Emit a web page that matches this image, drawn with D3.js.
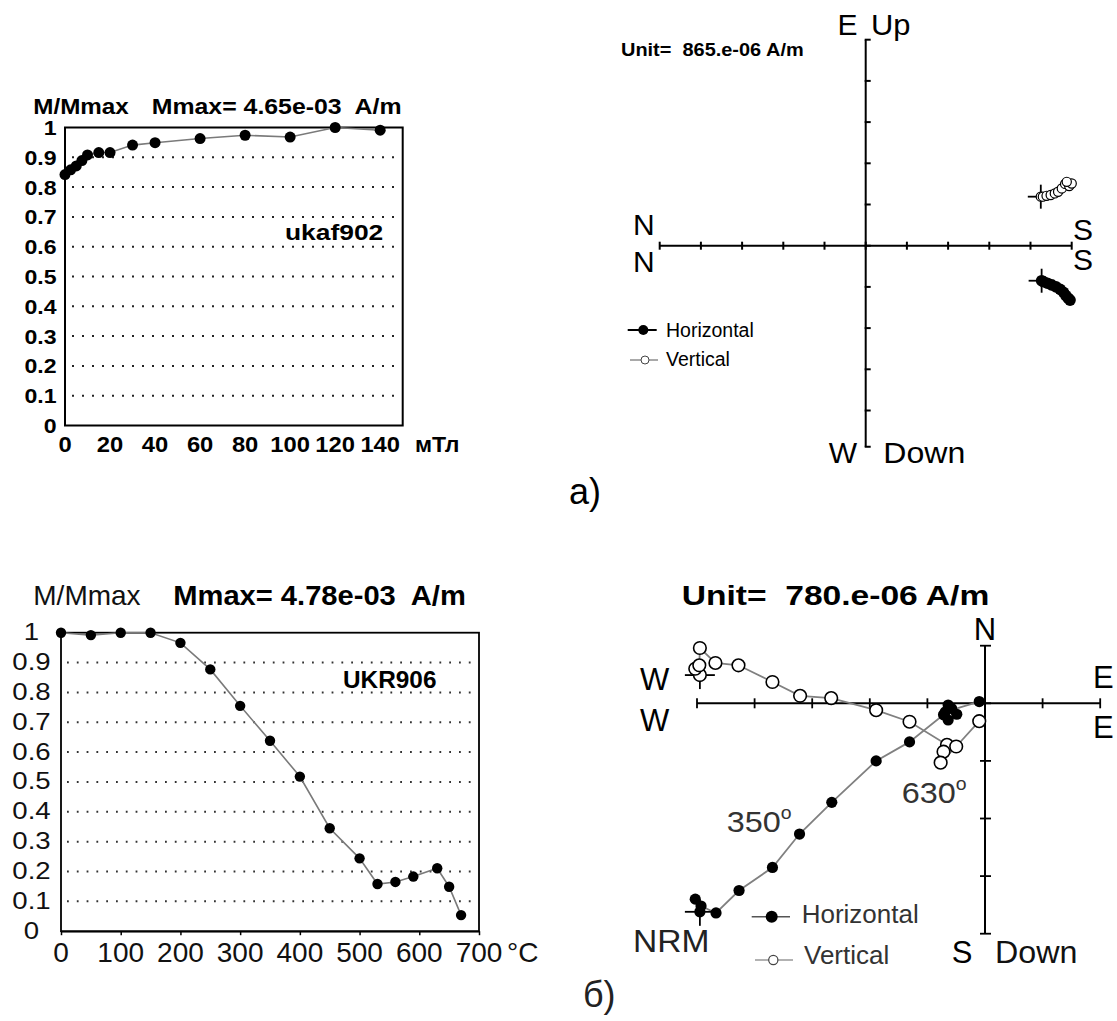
<!DOCTYPE html>
<html>
<head>
<meta charset="utf-8">
<script src="https://cdn.jsdelivr.net/npm/d3@7"></script>
<style>
  body { margin: 0; background: #fff; }
  svg { display: block; font-family: "Liberation Sans", Arial, sans-serif; }
  text { white-space: pre; }
</style>
</head>
<body>
<svg id="fig" width="1117" height="1021"></svg>
<script>
// ---- data: а) AF demagnetization, ukaf902
var afField  = [0, 2.5, 5, 7.5, 10, 15, 20, 30, 40, 60, 80, 100, 120, 140];
var afMoment = [0.842, 0.858, 0.871, 0.889, 0.908, 0.916, 0.916, 0.941, 0.949, 0.963, 0.974, 0.968, 1.0, 0.991];
var afTicks  = [0, 20, 40, 60, 80, 100, 120, 140];

// ---- data: б) thermal demagnetization, UKR906
var thTemp   = [0, 50, 100, 150, 200, 250, 300, 350, 400, 450, 500, 530, 560, 590, 630, 650, 670];
var thMoment = [1.0, 0.992, 1.0, 1.0, 0.966, 0.877, 0.755, 0.638, 0.518, 0.345, 0.244, 0.158, 0.165, 0.183, 0.211, 0.149, 0.054];
var thTicks  = [0, 100, 200, 300, 400, 500, 600, 700];

var fracTicks = [0, 0.1, 0.2, 0.3, 0.4, 0.5, 0.6, 0.7, 0.8, 0.9, 1];

// ---- Zijderveld а) (units of 865e-06 A/m)
var zijAHorX = [4.27, 4.31, 4.41, 4.51, 4.62, 4.72, 4.80, 4.86, 4.92, 4.96];
var zijAHorY = [-0.85, -0.87, -0.91, -0.95, -1.00, -1.06, -1.13, -1.21, -1.28, -1.32];
var zijAVerX = [4.25, 4.30, 4.39, 4.49, 4.59, 4.67, 4.76, 4.84, 4.94, 5.00, 4.88];
var zijAVerY = [1.19, 1.19, 1.21, 1.23, 1.27, 1.31, 1.39, 1.50, 1.45, 1.51, 1.55];

// ---- Zijderveld б) (units of 780e-06 A/m)
var zijBHorX = [-4.95, -5.03, -4.93, -4.67, -4.27, -3.69, -3.22, -2.66, -1.89, -1.31, -0.72, -0.64, -0.49, -0.58, -0.64, -0.69, -0.10];
var zijBHorY = [-3.62, -3.40, -3.52, -3.64, -3.25, -2.85, -2.27, -1.72, -1.00, -0.67, -0.20, -0.29, -0.19, -0.09, -0.03, -0.15, 0.03];
var zijBVerX = [-4.95, -5.03, -4.96, -4.95, -4.68, -4.28, -3.69, -3.21, -2.67, -1.89, -1.31, -0.66, -0.72, -0.77, -0.50, -0.10];
var zijBVerY = [0.49, 0.60, 0.66, 0.96, 0.70, 0.66, 0.37, 0.13, 0.09, -0.12, -0.32, -0.72, -0.84, -1.03, -0.75, -0.31];

var svg = d3.select("#fig");

function label(g, x, y, str, o) {
    o = o || {};
    return g.append("text")
        .attr("transform", "translate(" + x + "," + y + ") scale(" + (o.sx || 1) + ",1)")
        .attr("xml:space", "preserve")
        .attr("text-anchor", o.anchor || "start")
        .attr("font-size", o.size || 20)
        .attr("font-weight", o.bold ? "bold" : "normal")
        .attr("fill", o.color || "#000")
        .text(str);
}
function fracFmt(v) {
    if (v == 0) return "0";
    if (v == 1) return "1";
    return d3.format(".1f")(v);
}
function zip(a, b) { return a.map(function (d, i) { return [d, b[i]]; }); }

// ================= a) AF curve =================
(function () {
    var g = svg.append("g");
    var x = d3.scaleLinear().domain([0, 150]).range([65, 402.7]);
    var y = d3.scaleLinear().domain([0, 1]).range([425.5, 127.5]);

    g.selectAll(".grid").data(fracTicks.slice(1, 10)).enter().append("line")
        .attr("x1", x(0) + 7).attr("x2", x(150) - 3)
        .attr("y1", function (d) { return y(d); }).attr("y2", function (d) { return y(d); })
        .attr("stroke", "#222").attr("stroke-width", 2).attr("stroke-dasharray", "2,8");

    g.append("rect").attr("x", x(0)).attr("y", y(1))
        .attr("width", x(150) - x(0)).attr("height", y(0) - y(1))
        .attr("fill", "none").attr("stroke", "#000").attr("stroke-width", 2);

    var pts = zip(afField, afMoment);
    g.append("path").attr("d", d3.line().x(function (d) { return x(d[0]); }).y(function (d) { return y(d[1]); })(pts))
        .attr("fill", "none").attr("stroke", "#7a7a7a").attr("stroke-width", 1.6);
    g.selectAll(".pt").data(pts).enter().append("circle")
        .attr("cx", function (d) { return x(d[0]); }).attr("cy", function (d) { return y(d[1]); })
        .attr("r", 5.5).attr("fill", "#000");

    fracTicks.forEach(function (v) {
        label(g, 56.5, y(v) + 7.5, fracFmt(v), { anchor: "end", bold: true, size: 21, sx: 1.1 });
    });
    afTicks.forEach(function (v) {
        label(g, x(v), 451.7, String(v), { anchor: "middle", bold: true, size: 22, sx: 1.08 });
    });
    label(g, 415, 451.7, "мТл", { bold: true, size: 22, sx: 1.05 });
    label(g, 33.3, 113.5, "M/Mmax", { bold: true, size: 22, sx: 1.1 });
    label(g, 151.7, 113.5, "Mmax= 4.65e-03  A/m", { bold: true, size: 22, sx: 1.13 });
    label(g, 285, 240, "ukaf902", { bold: true, size: 22, sx: 1.2 });
})();

// ================= a) Zijderveld =================
(function () {
    var g = svg.append("g");
    var x = d3.scaleLinear().domain([-5, 5]).range([659.7, 1071.7]);
    var y = d3.scaleLinear().domain([-5, 5]).range([451.7, 39.7]);
    var ticks = d3.range(-5, 6);

    g.append("line").attr("x1", x(-5)).attr("x2", x(5)).attr("y1", y(0)).attr("y2", y(0))
        .attr("stroke", "#000").attr("stroke-width", 2);
    g.append("line").attr("x1", x(0)).attr("x2", x(0)).attr("y1", y(5)).attr("y2", y(-4.88))
        .attr("stroke", "#000").attr("stroke-width", 2);
    g.selectAll(".tx").data(ticks).enter().append("line")
        .attr("x1", function (d) { return x(d); }).attr("x2", function (d) { return x(d); })
        .attr("y1", y(0) - 4).attr("y2", y(0) + 4).attr("stroke", "#000").attr("stroke-width", 2);
    g.selectAll(".ty").data(ticks.map(function (d) { return d == -5 ? -4.88 : d; })).enter().append("line")
        .attr("x1", x(0) - 1).attr("x2", x(0) + 5)
        .attr("y1", function (d) { return y(d); }).attr("y2", function (d) { return y(d); })
        .attr("stroke", "#000").attr("stroke-width", 2);

    var line = d3.line().x(function (d) { return x(d[0]); }).y(function (d) { return y(d[1]); });
    var hor = zip(zijAHorX, zijAHorY), ver = zip(zijAVerX, zijAVerY);

    [hor[0], ver[0]].forEach(function (p) {
        g.append("line").attr("x1", x(p[0]) - 13).attr("x2", x(p[0]) + 13).attr("y1", y(p[1])).attr("y2", y(p[1]))
            .attr("stroke", "#000").attr("stroke-width", 1.8);
        g.append("line").attr("x1", x(p[0])).attr("x2", x(p[0])).attr("y1", y(p[1]) - 12).attr("y2", y(p[1]) + 12)
            .attr("stroke", "#000").attr("stroke-width", 1.8);
    });
    g.append("path").attr("d", line(hor)).attr("fill", "none").attr("stroke", "#000").attr("stroke-width", 2);
    g.append("path").attr("d", line(ver)).attr("fill", "none").attr("stroke", "#666").attr("stroke-width", 1);
    g.selectAll(".hp").data(hor).enter().append("circle")
        .attr("cx", function (d) { return x(d[0]); }).attr("cy", function (d) { return y(d[1]); })
        .attr("r", 5.8).attr("fill", "#000");
    g.selectAll(".vp").data(ver).enter().append("circle")
        .attr("cx", function (d) { return x(d[0]); }).attr("cy", function (d) { return y(d[1]); })
        .attr("r", 4.6).attr("fill", "#fff").attr("stroke", "#000").attr("stroke-width", 1.2);

    label(g, 621, 56, "Unit=  865.e-06 A/m", { bold: true, size: 19, sx: 1.05 });
    label(g, 857.5, 35, "E", { anchor: "end", size: 30 });
    label(g, 871, 35, "Up", { size: 30, sx: 1.03 });
    label(g, 633, 235, "N", { size: 30 });
    label(g, 633, 271.7, "N", { size: 30 });
    label(g, 1073, 240, "S", { size: 30 });
    label(g, 1073, 270, "S", { size: 30 });
    label(g, 857, 463.3, "W", { anchor: "end", size: 30 });
    label(g, 883.3, 463.3, "Down", { size: 30, sx: 1.07 });

    // legend
    g.append("line").attr("x1", 627.7).attr("x2", 656.7).attr("y1", 330).attr("y2", 330).attr("stroke", "#000").attr("stroke-width", 2);
    g.append("circle").attr("cx", 643.3).attr("cy", 330).attr("r", 5).attr("fill", "#000");
    label(g, 666, 336.7, "Horizontal", { size: 19.5 });
    g.append("line").attr("x1", 630).attr("x2", 658).attr("y1", 360).attr("y2", 360).attr("stroke", "#555").attr("stroke-width", 1);
    g.append("circle").attr("cx", 645).attr("cy", 360).attr("r", 4).attr("fill", "#fff").attr("stroke", "#444").attr("stroke-width", 1);
    label(g, 666, 366, "Vertical", { size: 19.5 });

    label(g, 569, 504, "a)", { size: 36 });
})();

// ================= б) thermal curve =================
(function () {
    var g = svg.append("g");
    var x = d3.scaleLinear().domain([0, 700]).range([61, 479]);
    var y = d3.scaleLinear().domain([0, 1]).range([931.2, 632.7]);

    g.selectAll(".grid").data(fracTicks.slice(1, 10)).enter().append("line")
        .attr("x1", x(0) + 6).attr("x2", x(700) - 5)
        .attr("y1", function (d) { return y(d); }).attr("y2", function (d) { return y(d); })
        .attr("stroke", "#333").attr("stroke-width", 2).attr("stroke-dasharray", "1.8,8");

    g.append("rect").attr("x", x(0)).attr("y", y(1))
        .attr("width", x(700) - x(0)).attr("height", y(0) - y(1))
        .attr("fill", "none").attr("stroke", "#000").attr("stroke-width", 1.8);

    g.append("g").attr("transform", "translate(0," + y(0) + ")")
        .call(d3.axisBottom(x).tickValues(thTicks).tickFormat("").tickSize(4).tickSizeOuter(0))
        .call(function (a) { a.select(".domain").attr("stroke-width", 1.8); a.selectAll(".tick line").attr("stroke-width", 1.5); });

    var pts = zip(thTemp, thMoment);
    g.append("path").attr("d", d3.line().x(function (d) { return x(d[0]); }).y(function (d) { return y(d[1]); })(pts))
        .attr("fill", "none").attr("stroke", "#7a7a7a").attr("stroke-width", 1.6);
    g.selectAll(".pt").data(pts).enter().append("circle")
        .attr("cx", function (d) { return x(d[0]); }).attr("cy", function (d) { return y(d[1]); })
        .attr("r", 5.2).attr("fill", "#000");

    fracTicks.forEach(function (v) {
        label(g, 31.5, y(v) + 7.5, fracFmt(v), { anchor: "middle", size: 23, sx: 1.2, color: "#111" });
    });
    thTicks.forEach(function (v) {
        label(g, x(v), 961.7, String(v), { anchor: "middle", size: 28, color: "#111" });
    });
    label(g, 507, 961.7, "°C", { size: 28, color: "#111" });
    label(g, 33.3, 605, "M/Mmax", { size: 28, color: "#111" });
    label(g, 173.3, 605, "Mmax= 4.78e-03  A/m", { bold: true, size: 28, sx: 1.04 });
    label(g, 343, 688, "UKR906", { bold: true, size: 23, sx: 1.06 });
})();

// ================= б) Zijderveld =================
(function () {
    var g = svg.append("g");
    var x = d3.scaleLinear().domain([-5, 2]).range([697, 1100.2]);
    var y = d3.scaleLinear().domain([-4, 1]).range([933.7, 645.7]);

    g.append("line").attr("x1", x(-5)).attr("x2", x(2)).attr("y1", y(0)).attr("y2", y(0))
        .attr("stroke", "#000").attr("stroke-width", 2);
    g.append("line").attr("x1", x(0)).attr("x2", x(0)).attr("y1", y(1)).attr("y2", y(-4))
        .attr("stroke", "#000").attr("stroke-width", 2);
    g.selectAll(".tx").data(d3.range(-5, 3)).enter().append("line")
        .attr("x1", function (d) { return x(d); }).attr("x2", function (d) { return x(d); })
        .attr("y1", y(0) - 5).attr("y2", y(0) + 5).attr("stroke", "#000").attr("stroke-width", 1.8);
    g.selectAll(".ty").data(d3.range(-4, 2)).enter().append("line")
        .attr("x1", x(0) - 5).attr("x2", x(0) + 6)
        .attr("y1", function (d) { return y(d); }).attr("y2", function (d) { return y(d); })
        .attr("stroke", "#000").attr("stroke-width", 1.8);

    var line = d3.line().x(function (d) { return x(d[0]); }).y(function (d) { return y(d[1]); });
    var hor = zip(zijBHorX, zijBHorY), ver = zip(zijBVerX, zijBVerY);

    g.append("path").attr("d", line(ver)).attr("fill", "none").attr("stroke", "#808080").attr("stroke-width", 1.8);
    g.append("path").attr("d", line(hor)).attr("fill", "none").attr("stroke", "#808080").attr("stroke-width", 1.8);

    [hor[0], ver[0]].forEach(function (p) {
        g.append("line").attr("x1", x(p[0]) - 15).attr("x2", x(p[0]) + 15).attr("y1", y(p[1])).attr("y2", y(p[1]))
            .attr("stroke", "#000").attr("stroke-width", 1.8);
        g.append("line").attr("x1", x(p[0])).attr("x2", x(p[0])).attr("y1", y(p[1]) - 12).attr("y2", y(p[1]) + 14)
            .attr("stroke", "#000").attr("stroke-width", 1.8);
    });
    g.selectAll(".vp").data(ver).enter().append("circle")
        .attr("cx", function (d) { return x(d[0]); }).attr("cy", function (d) { return y(d[1]); })
        .attr("r", 6.3).attr("fill", "#fff").attr("stroke", "#000").attr("stroke-width", 1.6);
    g.selectAll(".hp").data(hor).enter().append("circle")
        .attr("cx", function (d) { return x(d[0]); }).attr("cy", function (d) { return y(d[1]); })
        .attr("r", 5.6).attr("fill", "#000");

    function deg(t, x0, y0) {
        var tx = label(g, x0, y0, t, { size: 30, sx: 1.08, color: "#333" });
        tx.append("tspan").attr("font-size", 18).attr("dy", -13).text("o");
    }
    deg("350", 726.7, 831.7);
    deg("630", 901.7, 803.3);
    label(g, 633, 951.7, "NRM", { size: 32, sx: 1.05, color: "#222" });

    label(g, 681.7, 605, "Unit=  780.e-06 A/m", { bold: true, size: 28, sx: 1.2 });
    label(g, x(0), 640, "N", { anchor: "middle", size: 31 });
    label(g, 640, 690, "W", { size: 31 });
    label(g, 640, 731, "W", { size: 31 });
    label(g, 1093, 688, "E", { size: 31 });
    label(g, 1093, 738, "E", { size: 31 });
    label(g, 951.7, 963, "S", { size: 31 });
    label(g, 995, 963, "Down", { size: 31, sx: 1.04, color: "#111" });

    // legend
    g.append("line").attr("x1", 751.7).attr("x2", 790).attr("y1", 916.7).attr("y2", 916.7).attr("stroke", "#555").attr("stroke-width", 1.6);
    g.append("circle").attr("cx", 771.7).attr("cy", 916.7).attr("r", 6).attr("fill", "#000");
    label(g, 801.7, 922.7, "Horizontal", { size: 25, sx: 1.04, color: "#333" });
    g.append("line").attr("x1", 755).attr("x2", 793).attr("y1", 960).attr("y2", 960).attr("stroke", "#666").attr("stroke-width", 1.2);
    g.append("circle").attr("cx", 773.3).attr("cy", 960).attr("r", 4.6).attr("fill", "#fff").attr("stroke", "#444").attr("stroke-width", 1.2);
    label(g, 804, 964, "Vertical", { size: 25, sx: 1.04, color: "#333" });

    label(g, 583, 1007, "б)", { size: 36, color: "#222" });
})();
</script>
</body>
</html>
